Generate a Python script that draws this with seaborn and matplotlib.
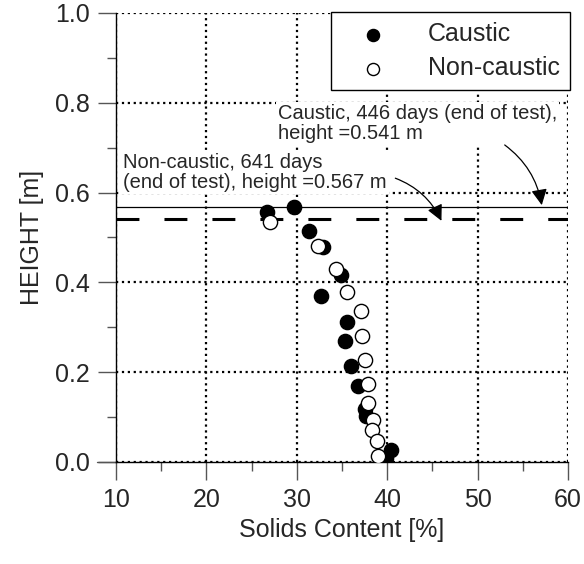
import matplotlib
matplotlib.use("Agg")
import matplotlib.pyplot as plt
import seaborn as sns
import pandas as pd

# Data
caustic_solids = [26.7, 29.7, 31.3, 32.9, 34.85, 32.7, 35.6, 35.3, 36.0, 36.8, 37.6, 37.7, 40.4, 39.85]
caustic_height = [0.557, 0.568, 0.514, 0.479, 0.416, 0.370, 0.312, 0.269, 0.213, 0.169, 0.118, 0.103, 0.027, 0.008]
noncaustic_solids = [27.0, 32.3, 34.3, 35.6, 37.1, 37.2, 37.5, 37.9, 37.85, 38.4, 38.3, 38.9, 39.0]
noncaustic_height = [0.535, 0.481, 0.429, 0.379, 0.337, 0.280, 0.228, 0.174, 0.132, 0.094, 0.070, 0.046, 0.014]
final_height_solid = 0.567
final_height_dashed = 0.541
series_labels = ["Caustic", "Non-caustic"]
xticks = [10, 20, 30, 40, 50, 60]
yticks = [0.0, 0.2, 0.4, 0.6, 0.8, 1.0]
note_caustic = "Caustic, 446 days (end of test),\nheight =0.541 m"
note_noncaustic = "Non-caustic, 641 days\n(end of test), height =0.567 m"

sns.set_style("ticks")
plt.rcParams["font.family"] = ["Liberation Sans", "DejaVu Sans"]

fig = plt.figure(figsize=(5.84, 5.64), dpi=100)
ax = fig.add_axes([0.1986, 0.181, 0.774, 0.796])

df_c = pd.DataFrame({"solids": caustic_solids, "height": caustic_height})
df_n = pd.DataFrame({"solids": noncaustic_solids, "height": noncaustic_height})

sns.scatterplot(data=df_c, x="solids", y="height", ax=ax, color="black",
                edgecolor="black", linewidth=1, s=105, label=series_labels[0], zorder=3)
sns.scatterplot(data=df_n, x="solids", y="height", ax=ax, color="white",
                edgecolor="black", linewidth=1, s=105, label=series_labels[1], zorder=4)

ax.axhline(final_height_solid, color="black", lw=0.9, zorder=2)
ax.axhline(final_height_dashed, color="black", lw=2.2, ls=(0, (7.5, 8.2)), zorder=2)

ax.set_xlim(10, 60)
ax.set_ylim(0, 1.0)
ax.set_xticks(xticks)
ax.set_yticks(yticks)
ax.set_xticklabels([str(v) for v in xticks])
ax.set_yticklabels([f"{v:.1f}" for v in yticks])
ax.set_xticks([15, 25, 35, 45, 55], minor=True)
ax.set_yticks([0.1, 0.3, 0.5, 0.7, 0.9], minor=True)
ax.tick_params(axis="both", which="major", direction="out", length=13, width=1,
               labelsize=18, color="#555555", pad=6)
ax.tick_params(axis="both", which="minor", direction="out", length=6.5, width=1, color="#555555")

ax.grid(True, which="major", ls=":", color="black", lw=1.6)
for s in ["top", "right"]:
    ax.spines[s].set_visible(False)
for s in ["left", "bottom"]:
    ax.spines[s].set_color("black")
    ax.spines[s].set_linewidth(1)
ax.plot([-0.042, 0], [0, 0], transform=ax.transAxes, color="#555555", lw=1, clip_on=False)

ax.set_xlabel("Solids Content [%]", fontsize=18, labelpad=4)
ax.set_ylabel("HEIGHT [m]", fontsize=18, labelpad=8)

text_bbox = dict(facecolor="white", edgecolor="none", pad=1.5)
ax.text(27.9, 0.797, note_caustic, fontsize=14.5, va="top", ha="left", linespacing=1.05,
        bbox=text_bbox, zorder=5)
ax.text(10.8, 0.688, note_noncaustic, fontsize=14.5, va="top", ha="left", linespacing=1.05,
        bbox=text_bbox, zorder=5)

arrow_kw = dict(arrowstyle="-|>", color="black", lw=0.9, mutation_scale=24,
                connectionstyle="arc3,rad=-0.2", shrinkA=0, shrinkB=0)
ax.annotate("", xy=(57.1, 0.572), xytext=(53.0, 0.706), arrowprops=arrow_kw, zorder=6)
ax.annotate("", xy=(46.0, 0.537), xytext=(40.9, 0.632), arrowprops=arrow_kw, zorder=6)

leg = ax.legend(loc="upper right", bbox_to_anchor=(1.004, 1.002), fontsize=18, frameon=True,
                fancybox=False, borderpad=0.4, handlelength=2.56, handletextpad=0.92,
                labelspacing=0.4, borderaxespad=0, markerscale=0.85)
leg.get_frame().set_edgecolor("black")
leg.get_frame().set_linewidth(1)
leg.get_frame().set_alpha(1)

fig.savefig("out.png", dpi=100)
